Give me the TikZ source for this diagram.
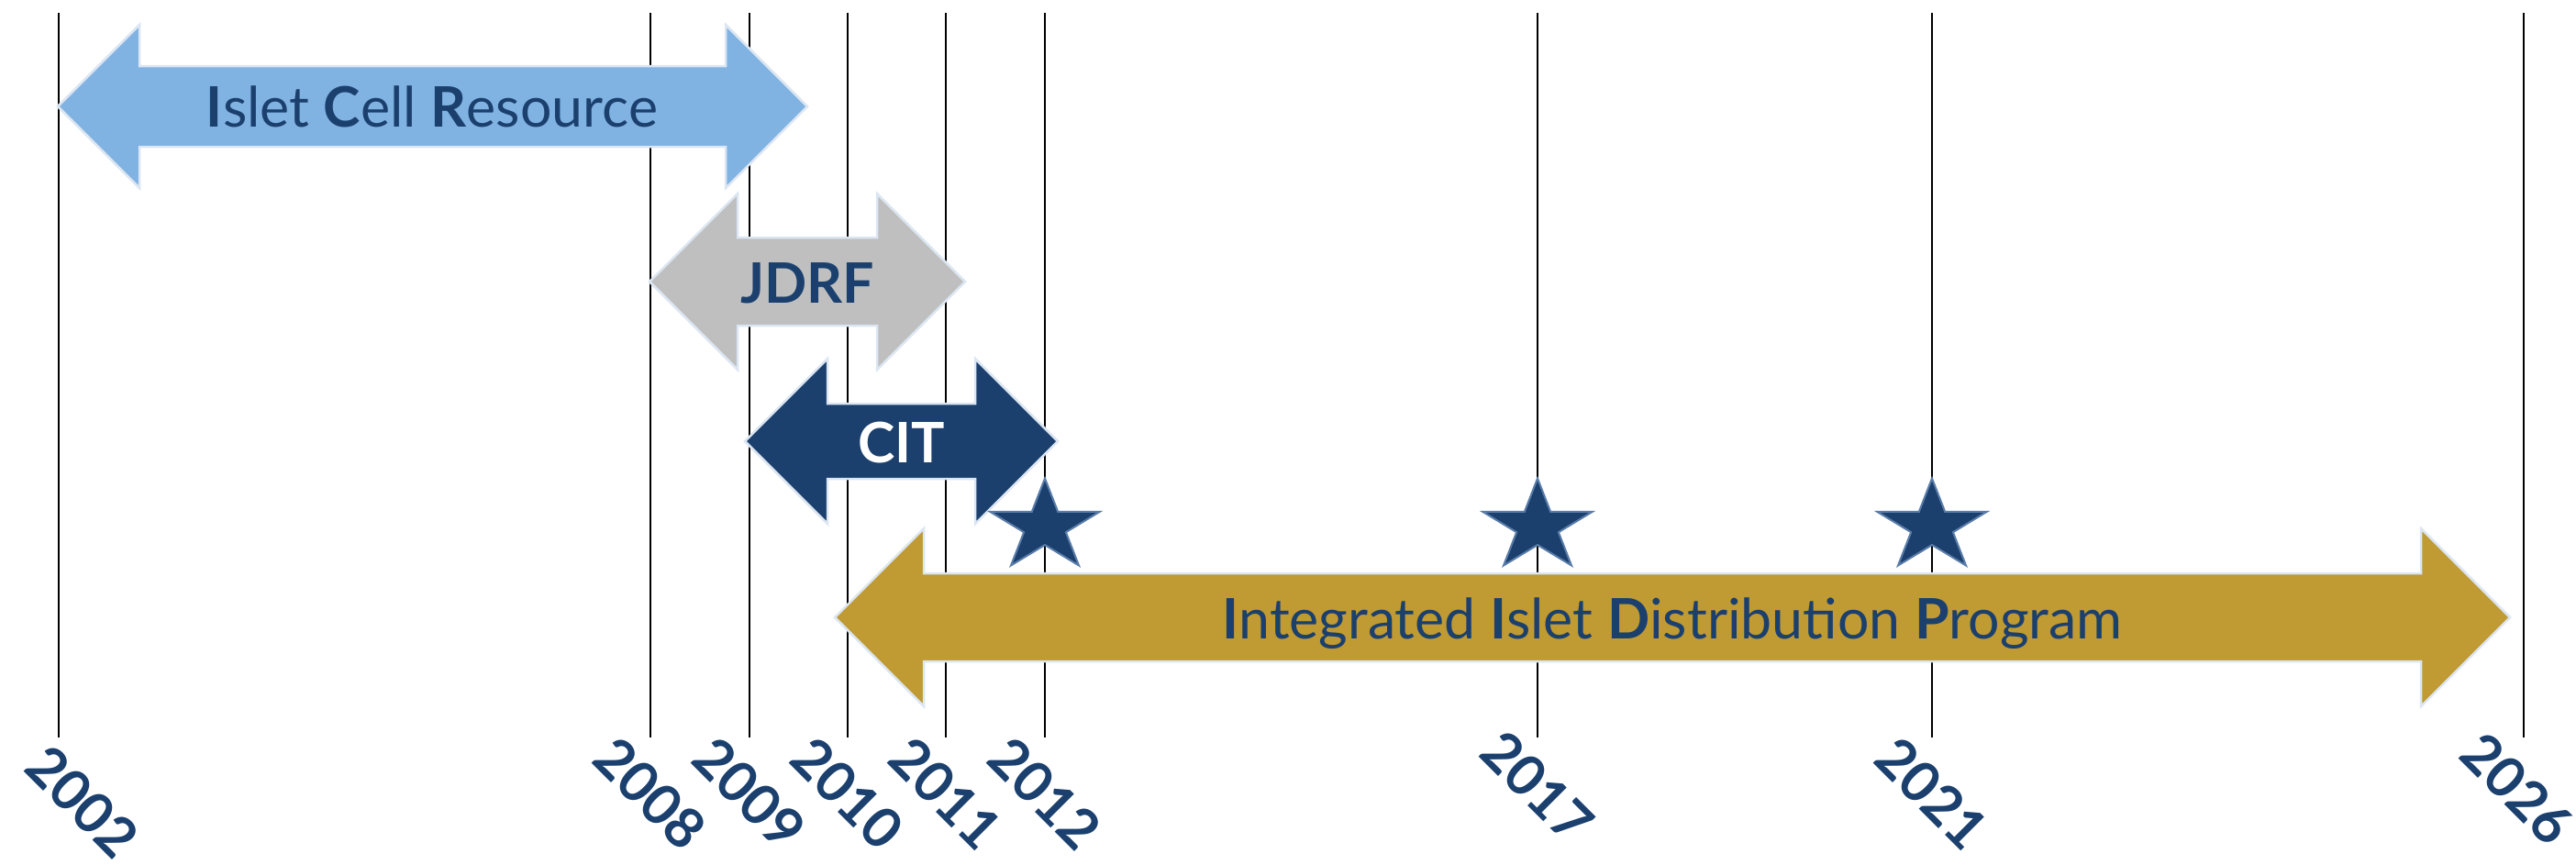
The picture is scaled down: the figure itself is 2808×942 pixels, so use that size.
\documentclass[tikz,border=0pt]{standalone}
\usepackage{fontspec}
\setmainfont{Lato}
\usetikzlibrary{shapes.geometric}

\definecolor{navy}{RGB}{27,64,110}
\definecolor{icrblue}{RGB}{128,178,226}
\definecolor{jdrfgray}{RGB}{191,191,191}
\definecolor{iidpgold}{RGB}{192,154,50}
\definecolor{rim}{RGB}{220,230,242}
\definecolor{starrim}{RGB}{90,124,168}

\begin{document}
\begin{tikzpicture}[x=0.1mm, y=-0.1mm,
                    year line/.style={draw=black, line width=0.22mm},
                    year label/.style={text=navy, inner sep=0pt, rotate=-45,
                                       font=\bfseries\fontsize{17.3}{20}\selectfont},
                    band/.style={draw=rim, line width=0.25mm},
                    band text/.style={text=navy, anchor=base, inner sep=0pt,
                                      font=\fontsize{17.3}{20}\selectfont},
                    star mark/.style={star, star points=5, star point ratio=2.618,
                                      minimum size=10.5mm, inner sep=0pt,
                                      fill=navy, draw=starrim, line width=0.2mm,
                                      xscale=1.2, transform shape}]

  \useasboundingbox (0,0) rectangle (2808,942);

  % year grid
  \foreach \yr/\x/\lx/\ly in {2002/64/90/874, 2008/709/709/865, 2009/817/817/865,
                              2010/924/924/865, 2011/1031/1031/865, 2012/1139/1139/865,
                              2017/1676/1676/858, 2021/2106/2106/865, 2026/2751/2744/860}{
    \coordinate (top\yr) at (\x,14);
    \coordinate (bot\yr) at (\x,804);
    \draw[year line] (top\yr) -- (bot\yr);
    \node[year label] (lab\yr) at (\lx,\ly) {\yr};
  }

  % programme bands
  \foreach \xa/\xb/\yc/\hh/\sh/\col in {63/880/116/89/44/icrblue,
                                        708/1052/307/96/48/jdrfgray,
                                        812/1153/481/90/41/navy,
                                        910/2736/673/97/48/iidpgold}{
    \path[band, fill=\col]
      (\xa,\yc) -- (\xa+\hh,\yc-\hh) -- (\xa+\hh,\yc-\sh) -- (\xb-\hh,\yc-\sh)
      -- (\xb-\hh,\yc-\hh) -- (\xb,\yc) -- (\xb-\hh,\yc+\hh) -- (\xb-\hh,\yc+\sh)
      -- (\xa+\hh,\yc+\sh) -- (\xa+\hh,\yc+\hh) -- cycle;
  }

  \node[band text] (icr) at (471,138) {\textbf{I}slet \textbf{C}ell \textbf{R}esource};
  \node[band text, font=\bfseries\fontsize{17.3}{20}\selectfont] (jdrf) at (880,330) {JDRF};
  \node[band text, text=white, font=\bfseries\fontsize{17.3}{20}\selectfont] (cit) at (983,504) {CIT};
  \node[band text] (iidp) at (1823,696)
    {\textbf{I}ntegrated \textbf{I}slet \textbf{D}istribution \textbf{P}rogram};

  % milestones
  \coordinate (starrow) at (0,574);
  \foreach \yr in {2012,2017,2021}
    \node[star mark] (star\yr) at (top\yr |- starrow) {};
\end{tikzpicture}
\end{document}
